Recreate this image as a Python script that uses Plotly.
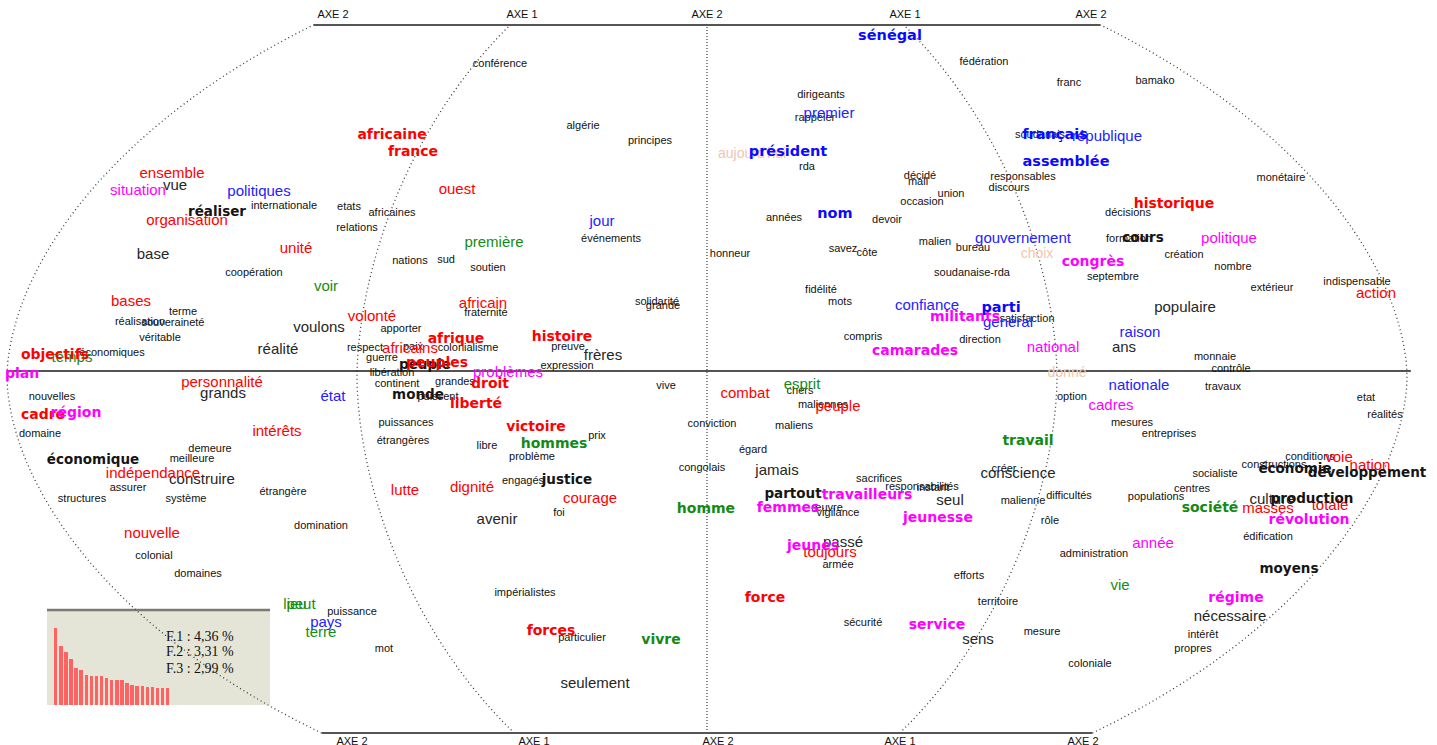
import numpy as np
import plotly.graph_objects as go

# ---------------- DATA : factor-plane coordinates (F1 horizontal, F2 vertical) ----------------
# small black words
small_words = ["conférence", "algérie", "principes", "africaines", "etats", "relations", "internationale",
               "coopération", "événements", "nations", "sud", "soutien", "rda", "dirigeants", "rappeler",
               "fédération", "franc", "bamako", "soudanais", "responsables", "discours", "décidé", "mali",
               "union", "occasion", "années", "devoir", "malien", "bureau", "savez", "côte", "honneur",
               "décisions", "formation", "création", "septembre", "nombre", "monétaire", "soudanaise-rda",
               "fidélité", "mots", "extérieur", "indispensable", "satisfaction", "compris", "direction",
               "monnaie", "contrôle", "travaux", "option", "etat", "réalités", "mesures", "entreprises",
               "terme", "réalisation", "souveraineté", "véritable", "économiques", "nouvelles", "domaine",
               "demeure", "meilleure", "assurer", "système", "structures", "étrangère", "domination",
               "colonial", "domaines", "puissance", "mot", "apporter", "fraternité", "respect", "paix",
               "colonialisme", "guerre", "libération", "expression", "preuve", "solidarité", "grande",
               "continent", "grandes", "puissent", "puissances", "étrangères", "prix", "libre", "problème",
               "engagés", "foi", "impérialistes", "particulier", "vive", "conviction", "congolais", "chers",
               "maliennes", "maliens", "égard", "sacrifices", "responsabilités", "instant", "créer",
               "malienne", "difficultés", "œuvre", "vigilance", "rôle", "armée", "efforts", "territoire",
               "sécurité", "mesure", "coloniale", "administration", "populations", "centres", "socialiste",
               "conditions", "constructions", "édification", "intérêt", "propres"]
small_f1 = [-207, -124, -57, -315, -358, -350, -423, -453, -96, -297, -261, -219, 100, 114, 108,
            277, 362, 448, 333, 316, 302, 213, 211, 244, 215, 77, 180, 228, 266, 136, 160, 23,
            421, 422, 477, 406, 526, 574, 265, 114, 133, 565, 650, 320, 156, 273,
            508, 524, 516, 365, 659, 678, 425, 462,
            -524, -567, -534, -547, -595, -655, -667, -497, -515, -579, -521, -625, -424, -386,
            -553, -509, -355, -323, -306, -221, -342, -294, -239, -325, -315, -140, -139, -50, -44,
            -310, -252, -269, -301, -304, -110, -220, -175, -184, -148, -182, -125, -41, 5, -5, 93,
            116, 87, 46, 172, 215, 226, 297, 316, 362, 120, 131, 343, 131, 262, 291,
            156, 335, 383, 387, 449, 485, 508, 603, 567, 561, 496, 486]
small_f2 = [307, 245, 230, 158, 164, 143, 165, 98, 132, 110, 111, 103, 204, 276, 253,
            309, 288, 290, 236, 194, 183, 195, 189, 177, 169, 153, 151, 129, 123, 122, 118, 117,
            158, 132, 116, 94, 104, 193, 98, 81, 69, 83, 89, 52, 34, 31,
            14, 2, -16, -26, -27, -44, -52, -63,
            59, 49, 48, 33, 18, -26, -63, -78, -88, -117, -128, -128, -121, -155,
            -185, -203, -241, -278, 42, 58, 23, 24, 23, 13, -2, 5, 24, 69, 65,
            -13, -11, -26, -52, -70, -65, -75, -86, -110, -142, -222, -267, -15, -53, -97, -20,
            -34, -55, -79, -108, -116, -117, -98, -130, -125, -137, -142, -150, -194, -205, -231,
            -252, -261, -293, -183, -126, -118, -103, -86, -94, -166, -264, -278]

# medium black words
mid_words = ["vue", "base", "voulons", "réalité", "grands", "construire", "frères", "avenir", "seulement",
             "jamais", "conscience", "seul", "passé", "sens", "populaire", "ans", "culture", "nécessaire"]
mid_f1 = [-532, -554, -388, -429, -484, -505, -104, -210, -112, 70, 311, 243, 136, 271, 478, 417, 565, 523]
mid_f2 = [185, 116, 43, 21, -23, -109, 15, -149, -313, -100, -103, -130, -172, -269, 63, 23, -129, -246]

# bold black words
bblack_words = ["réaliser", "économique", "peuple", "monde", "justice", "partout", "cours", "moyens",
                "production", "développement", "économie"]
bblack_f1 = [-490, -614, -282, -289, -140, 86, 436, 582, 605, 660, 588]
bblack_f2 = [158, -90, 5, -25, -110, -124, 132, -199, -129, -103, -99]

# red words
red_words = ["ouest", "ensemble", "organisation", "unité", "bases", "volonté", "africain", "africains",
             "personnalité", "intérêts", "indépendance", "lutte", "dignité", "courage", "nouvelle", "combat",
             "peuple", "toujours", "action", "voie", "nation", "masses", "totale"]
red_f1 = [-250, -535, -520, -411, -576, -335, -224, -297, -485, -430, -554, -302, -235, -117, -555, 38,
          131, 123, 669, 632, 663, 561, 623]
red_f2 = [181, 197, 150, 122, 69, 54, 67, 22, -12, -61, -103, -120, -117, -128, -163, -23,
          -36, -182, 77, -87, -95, -138, -135]

bred_words = ["africaine", "france", "objectifs", "cadre", "afrique", "peuples", "histoire", "droit",
              "liberté", "victoire", "forces", "force", "historique"]
bred_f1 = [-315, -294, -652, -664, -251, -270, -145, -217, -231, -171, -156, 58, 467]
bred_f2 = [236, 219, 16, -44, 32, 8, 34, -13, -33, -56, -260, -227, 167]

# blue words
blue_words = ["politiques", "jour", "premier", "république", "gouvernement", "confiance", "général",
              "raison", "nationale", "état", "pays"]
blue_f1 = [-448, -105, 122, 400, 316, 220, 301, 433, 432, -374, -381]
blue_f2 = [179, 149, 257, 234, 132, 65, 48, 38, -15, -26, -252]

bblue_words = ["sénégal", "président", "français", "assemblée", "nom", "parti"]
bblue_f1 = [183, 81, 348, 359, 128, 294]
bblue_f2 = [335, 219, 236, 209, 157, 63]

# magenta words
mag_words = ["situation", "problèmes", "politique", "national", "cadres", "année"]
mag_f1 = [-569, -199, 522, 346, 404, 446]
mag_f2 = [180, -2, 132, 23, -35, -173]

bmag_words = ["plan", "région", "congrès", "militants", "camarades", "travailleurs", "femmes", "jeunesse",
              "jeunes", "service", "révolution", "régime"]
bmag_f1 = [-685, -631, 386, 258, 208, 160, 81, 231, 106, 230, 602, 529]
bmag_f2 = [-3, -42, 109, 54, 20, -124, -137, -147, -175, -254, -149, -227]

# green words
green_words = ["voir", "première", "temps", "lieu", "peut", "terre", "esprit", "vie"]
green_f1 = [-381, -213, -635, -412, -406, -386, 95, 413]
green_f2 = [84, 128, 13, -234, -234, -262, -14, -215]

bgreen_words = ["hommes", "vivre", "homme", "travail", "société"]
bgreen_f1 = [-153, -46, -1, 321, 503]
bgreen_f2 = [-73, -269, -138, -70, -137]

# faded (supplementary) words
faded_words = ["aujourd'hui", "choix", "donné"]
faded_f1 = [45, 330, 360]
faded_f2 = [217, 117, -2]

# eigenvalues (% of inertia)
eigen_pct = [4.36, 3.31, 2.99, 2.58, 2.10, 1.97, 1.69, 1.64, 1.64, 1.64, 1.51, 1.39, 1.39, 1.39,
             1.22, 1.13, 1.09, 1.09, 1.03, 1.03, 0.98, 0.98, 0.94]
factor_labels = ["F.1", "F.2", "F.3"]

axis_labels = ["AXE 2", "AXE 1", "AXE 2", "AXE 1", "AXE 2"]
axis_top_pos = [-374, -185, 0, 198, 384]
axis_bot_pos = [-355, -173, 11, 193, 376]

# ---------------- FIGURE ----------------
W, H = 1437, 745
X_RANGE = [-707, 730]
Y_RANGE = [-374, 371]

SANS = "Liberation Sans, Arial, sans-serif"
BOLD = "DejaVu Sans, Verdana, sans-serif"

fig = go.Figure()


def words(txt, f1, f2, color, size, family, bold=False):
    fig.add_trace(go.Scatter(
        x=f1, y=f2, text=txt, mode="text", textposition="middle center",
        textfont=dict(color=color, size=size, family=family, weight="bold" if bold else "normal"),
        hoverinfo="skip", cliponaxis=False, showlegend=False, xaxis="x", yaxis="y"))


words(faded_words, faded_f1, faded_f2, "#f1c6b0", 14, SANS)
words(small_words, small_f1, small_f2, "#111111", 11, SANS)
words(mid_words, mid_f1, mid_f2, "#262626", 15, SANS)
words(green_words, green_f1, green_f2, "#158c15", 15, SANS)
words(red_words, red_f1, red_f2, "#ff0000", 15, SANS)
words(blue_words, blue_f1, blue_f2, "#2222ff", 15, SANS)
words(mag_words, mag_f1, mag_f2, "#ff00ff", 15, SANS)
words(bblack_words, bblack_f1, bblack_f2, "#151515", 13.5, BOLD, True)
words(bgreen_words, bgreen_f1, bgreen_f2, "#138a13", 14, BOLD, True)
words(bred_words, bred_f1, bred_f2, "#ff0000", 14, BOLD, True)
words(bmag_words, bmag_f1, bmag_f2, "#ff00ff", 14, BOLD, True)
words(bblue_words, bblue_f1, bblue_f2, "#0a0aff", 14.5, BOLD, True)

# axis labels at the top / bottom band
fig.add_trace(go.Scatter(x=axis_top_pos, y=[356] * 5, text=axis_labels, mode="text",
                         textfont=dict(size=11, color="#111", family=SANS), hoverinfo="skip",
                         cliponaxis=False, showlegend=False))
fig.add_trace(go.Scatter(x=axis_bot_pos, y=[-371] * 5, text=axis_labels, mode="text",
                         textfont=dict(size=11, color="#111", family=SANS), hoverinfo="skip",
                         cliponaxis=False, showlegend=False))

# eigenvalue inset bars
fig.add_trace(go.Bar(x=list(range(1, len(eigen_pct) + 1)), y=eigen_pct, xaxis="x2", yaxis="y2",
                     marker=dict(color="#ff6262", line=dict(width=0)), width=0.68,
                     hoverinfo="skip", showlegend=False))

# ---------------- globe guides (projected meridians) ----------------
CY, B, N = -6, 449, 1.8
A_OUT, A_IN = 700, 350
Y_TOP, Y_BOT = 346, -362
ys = np.linspace(Y_BOT, Y_TOP, 300)


def half_w(a, y):
    return a * (1 - np.abs((y - CY) / B) ** N) ** (1 / N)


shapes = []
for a in (A_OUT, A_IN):
    for side in (-1, 1):
        xs = side * half_w(a, ys)
        path = "M " + " L ".join(f"{x:.1f},{y:.1f}" for x, y in zip(xs, ys))
        shapes.append(dict(type="path", path=path, xref="x", yref="y", layer="below",
                           line=dict(color="#3a3a3a", width=1.3, dash="1px,3px")))
# central meridian
shapes.append(dict(type="line", x0=0, x1=0, y0=Y_BOT, y1=Y_TOP, xref="x", yref="y", layer="below",
                   line=dict(color="#3a3a3a", width=1.2, dash="1px,2px")))
# horizontal axis
hw0 = float(half_w(A_OUT, 0))
shapes.append(dict(type="line", x0=-hw0, x1=hw0 + 4, y0=0, y1=0, xref="x", yref="y", layer="below",
                   line=dict(color="#1a1a1a", width=1.3)))
# top / bottom band edges
for yb in (Y_TOP, Y_BOT):
    hw = float(half_w(A_OUT, yb))
    shapes.append(dict(type="line", x0=-hw, x1=hw, y0=yb, y1=yb, xref="x", yref="y", layer="below",
                       line=dict(color="#555555", width=2)))
# inset box
shapes.append(dict(type="rect", x0=0, x1=1, y0=0, y1=1, xref="x2 domain", yref="y2 domain",
                   layer="below", fillcolor="#e5e5d7", line=dict(width=0)))
shapes.append(dict(type="line", x0=0, x1=1, y0=1, y1=1, xref="x2 domain", yref="y2 domain",
                   layer="below", line=dict(color="#7b7b72", width=2.5)))

annotations = []
ann_y = [0.716, 0.558, 0.379]
for lab, v, yy in zip(factor_labels, eigen_pct[:3], ann_y):
    annotations.append(dict(text=f"{lab} : " + f"{v:.2f}".replace(".", ",") + " %",
                            x=0.525, y=yy, xref="x2 domain", yref="y2 domain", xanchor="left",
                            yanchor="middle", showarrow=False,
                            font=dict(family="Liberation Serif, Times New Roman, serif", size=14,
                                      color="#111")))

fig.update_layout(
    width=W, height=H, margin=dict(l=0, r=0, t=0, b=0, pad=0),
    paper_bgcolor="white", plot_bgcolor="rgba(0,0,0,0)",
    xaxis=dict(range=X_RANGE, visible=False, showgrid=False, zeroline=False, fixedrange=True,
               domain=[0, 1]),
    yaxis=dict(range=Y_RANGE, visible=False, showgrid=False, zeroline=False, fixedrange=True,
               domain=[0, 1]),
    xaxis2=dict(domain=[47 / W, 270 / W], range=[-0.72, 43.1], visible=False, anchor="y2",
                fixedrange=True),
    yaxis2=dict(domain=[40 / H, 135 / H], range=[0, 5.36], visible=False, anchor="x2",
                fixedrange=True),
    shapes=shapes, annotations=annotations, showlegend=False, bargap=0,
)

fig.write_html("out.html", include_plotlyjs=True, config={"displayModeBar": False},
               post_script="document.body.style.margin='0';document.body.style.overflow='hidden';")
